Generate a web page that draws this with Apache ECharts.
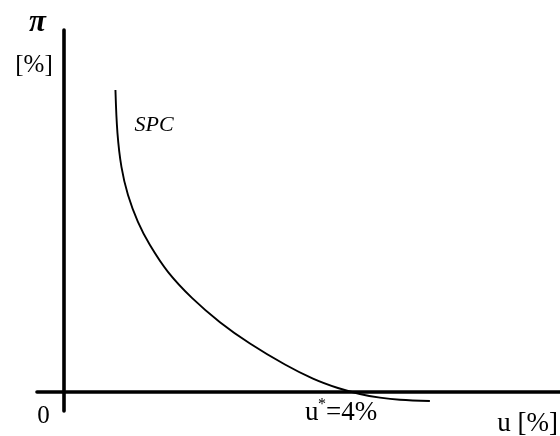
<!DOCTYPE html>
<html>
<head>
<meta charset="utf-8">
<script src="https://cdn.jsdelivr.net/npm/echarts@6/dist/echarts.min.js"></script>
<style>html,body{margin:0;padding:0;background:#fff}#c{width:560px;height:436px}</style>
</head>
<body>
<div id="c"></div>
<script>
// Unemployment u [%] along the short-run Phillips curve (SPC)
const uValues = [0.746, 0.775, 0.833, 0.928, 1.072, 1.246, 1.507, 1.855, 2.261, 2.696, 3.203, 3.609, 3.971, 4.290, 4.580, 4.870, 5.304];
// Inflation π [%]
const piValues = [8.34, 7.16, 6.22, 5.44, 4.70, 4.06, 3.32, 2.60, 1.93, 1.34, 0.76, 0.37, 0.11, -0.055, -0.155, -0.215, -0.25];
const seriesName = 'SPC';
const yAxisLabels = ['π', '[%]'];
const xAxisLabel = 'u [%]';
const originLabel = '0';
const naturalRateLabel = ['u', '*', '=4%'];

const chart = echarts.init(document.getElementById('c'), null, {renderer: 'canvas'});
const serif = '"Liberation Serif", "DejaVu Serif", serif';
const axisStyle = {show: true, onZero: true, lineStyle: {color: '#000', width: 3.6}};
chart.setOption({
  animation: false,
  backgroundColor: '#fff',
  grid: {left: 37, right: 0, top: 30, bottom: 25},
  xAxis: {
    type: 'value', min: -0.391, max: 7.19,
    axisLine: axisStyle, axisTick: {show: false}, axisLabel: {show: false}, splitLine: {show: false}
  },
  yAxis: {
    type: 'value', min: -0.525, max: 10,
    axisLine: axisStyle, axisTick: {show: false}, axisLabel: {show: false}, splitLine: {show: false}
  },
  series: [{
    name: seriesName,
    type: 'line',
    data: uValues.map((u, i) => [u, piValues[i]]),
    smooth: 0.35,
    symbol: 'none',
    clip: false,
    lineStyle: {color: '#000', width: 1.9}
  }],
  graphic: [
    {type: 'text', x: 37.5, y: 23, style: {text: yAxisLabels[0], font: 'italic bold 31px ' + serif, fill: '#000', textAlign: 'center', textVerticalAlign: 'middle'}},
    {type: 'text', x: 34, y: 65, style: {text: yAxisLabels[1], font: '25px ' + serif, fill: '#000', textAlign: 'center', textVerticalAlign: 'middle'}},
    {type: 'text', x: 154, y: 125, style: {text: seriesName, font: 'italic 22px ' + serif, fill: '#000', textAlign: 'center', textVerticalAlign: 'middle'}},
    {type: 'text', x: 43.5, y: 416, style: {text: originLabel, font: '25px ' + serif, fill: '#000', textAlign: 'center', textVerticalAlign: 'middle'}},
    {type: 'text', x: 305, y: 413, style: {text: naturalRateLabel[0], font: '27px ' + serif, fill: '#000', textAlign: 'left', textVerticalAlign: 'middle'}},
    {type: 'text', x: 318, y: 405, style: {text: naturalRateLabel[1], font: '16px ' + serif, fill: '#000', textAlign: 'left', textVerticalAlign: 'middle'}},
    {type: 'text', x: 326, y: 413, style: {text: naturalRateLabel[2], font: '27px ' + serif, fill: '#000', textAlign: 'left', textVerticalAlign: 'middle'}},
    {type: 'text', x: 558, y: 424, style: {text: xAxisLabel, font: '27px ' + serif, fill: '#000', textAlign: 'right', textVerticalAlign: 'middle'}}
  ]
});
</script>
</body>
</html>
